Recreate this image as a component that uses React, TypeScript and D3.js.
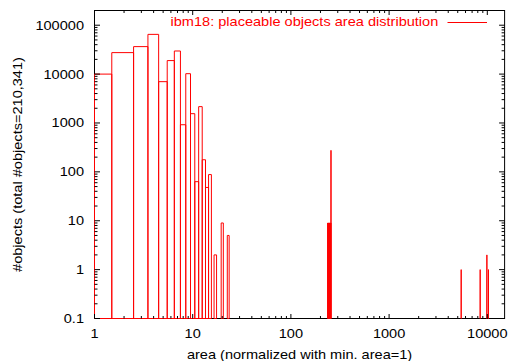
import React from "react";
import * as d3 from "d3";

// ---- data ----
const binAreas = [1, 2, 3, 4, 5, 6, 7, 8, 9, 10, 11, 12, 13, 14, 15, 17, 20, 23,
  237, 240, 243, 246, 249, 252, 255, 256, 5420, 8460, 9900, 10280];
const binCounts = [10000, 27500, 36500, 65000, 7000, 18900, 29700, 920, 10200, 1550, 63, 2160, 177, 48, 88, 2, 9, 5,
  9, 9, 9, 9, 9, 9, 9, 275, 1, 1, 2, 1];
const binWidth = 1;

const xTickValues = [1, 10, 100, 1000, 10000];
const xTickLabels = ["1", "10", "100", "1000", "10000"];
const yTickValues = [0.1, 1, 10, 100, 1000, 10000, 100000];
const yTickLabels = ["0.1", "1", "10", "100", "1000", "10000", "100000"];

const seriesTitle = "ibm18: placeable objects area distribution";
const xTitle = "area (normalized with min. area=1)";
const yTitle = "#objects (total #objects=210,341)";

const xDomain: [number, number] = [1, 15000];
const yDomain: [number, number] = [0.1, 200000];

// ---- layout ----
const W = 508, H = 361;
const L = 94.5, R = 504.6, T = 10.5, B = 318.5;
const FONT = "'Liberation Sans', Arial, Helvetica, sans-serif";
const FS = 12.5;
const SX = 1.165;
const RED = "#ff0000";

export default function App() {
  const x = d3.scaleLog().domain(xDomain).range([L, R]);
  const y = d3.scaleLog().domain(yDomain).range([B, T]);

  const minorX: number[] = [];
  for (let e = 0; e <= 4; e++) for (let m = 2; m <= 9; m++) {
    const v = m * Math.pow(10, e);
    if (v < xDomain[1]) minorX.push(v);
  }
  const minorY: number[] = [];
  for (let e = -1; e <= 5; e++) for (let m = 2; m <= 9; m++) {
    const v = m * Math.pow(10, e);
    if (v < yDomain[1]) minorY.push(v);
  }

  const boxes = binAreas.map((a, i) => {
    const x0 = x(Math.max(a - binWidth / 2, xDomain[0]));
    const x1 = x(Math.min(a + binWidth / 2, xDomain[1]));
    const yt = y(binCounts[i]);
    return `M${x0},${B}V${yt}H${x1}V${B}Z`;
  });

  const tickStroke = "#000";
  const txt = (tx: number, ty: number, s: string, anchor: string, rot = false, fill = "#000", key?: any) => (
    <text key={key} transform={`translate(${tx},${ty})${rot ? " rotate(-90)" : ""} scale(${SX},1)`}
      textAnchor={anchor} fontFamily={FONT} fontSize={FS} fill={fill}>{s}</text>
  );

  return (
    <svg width={W} height={H} style={{ position: "absolute", left: 0, top: 0, background: "#fff" }}>
      <rect x={0} y={0} width={W} height={H} fill="#fff" />
      <rect x={L} y={T} width={R - L} height={B - T} fill="none" stroke="#000" strokeWidth={1} />
      {boxes.map((d, i) => (
        <path key={i} d={d} fill="none" stroke={RED} strokeWidth={1} />
      ))}
      {/* ticks */}
      <g stroke={tickStroke} strokeWidth={1}>
        {xTickValues.map((v, i) => (
          <g key={"xt" + i}>
            <line x1={x(v)} x2={x(v)} y1={B} y2={B - 4.5} />
            <line x1={x(v)} x2={x(v)} y1={T} y2={T + 4.5} />
          </g>
        ))}
        {minorX.map((v, i) => (
          <g key={"xm" + i}>
            <line x1={x(v)} x2={x(v)} y1={B} y2={B - 2.5} />
            <line x1={x(v)} x2={x(v)} y1={T} y2={T + 2.5} />
          </g>
        ))}
        {yTickValues.map((v, i) => (
          <g key={"yt" + i}>
            <line x1={L} x2={L + 5.5} y1={y(v)} y2={y(v)} />
            <line x1={R} x2={R - 5.5} y1={y(v)} y2={y(v)} />
          </g>
        ))}
        {minorY.map((v, i) => (
          <g key={"ym" + i}>
            <line x1={L} x2={L + 3} y1={y(v)} y2={y(v)} />
            <line x1={R} x2={R - 3} y1={y(v)} y2={y(v)} />
          </g>
        ))}
      </g>
      {/* tick labels */}
      {yTickValues.map((v, i) => txt(84, y(v) + 4.5, yTickLabels[i], "end", false, "#000", "yl" + i))}
      {xTickValues.map((v, i) => txt(x(v), 338.3, xTickLabels[i], "middle", false, "#000", "xl" + i))}
      {/* axis titles */}
      {txt((L + R) / 2, 359, xTitle, "middle")}
      {txt(21.7, (T + B) / 2, yTitle, "middle", true)}
      {/* legend */}
      {txt(438.3, 25.7, seriesTitle, "end", false, RED)}
      <line x1={447.5} x2={487} y1={22.5} y2={22.5} stroke={RED} strokeWidth={1} />
    </svg>
  );
}
